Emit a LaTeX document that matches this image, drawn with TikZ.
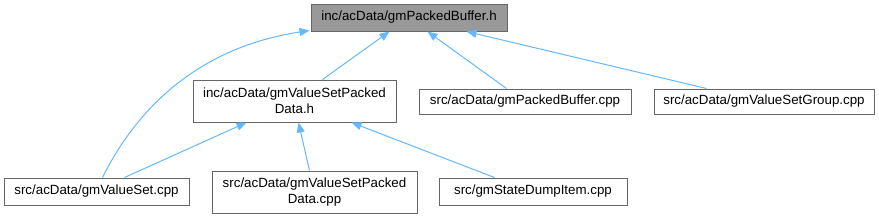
\documentclass[tikz,border=0pt]{standalone}
\usepackage{fontspec}
\setmainfont{Liberation Sans}
\usetikzlibrary{arrows.meta,calc}
\definecolor{edgeblue}{HTML}{63B8FF}
\definecolor{boxborder}{HTML}{666666}
\definecolor{topfill}{HTML}{999999}
\begin{document}
\begin{tikzpicture}[x=0.75pt,y=-0.75pt,
  box/.style={draw=boxborder,line width=0.75pt,fill=white,inner sep=0pt,align=center,
    font=\fontsize{10}{12}\selectfont,text=black},
  arr/.style={draw=edgeblue,line width=0.75pt,-{Triangle[length=7.5pt,width=6pt]}}]
\useasboundingbox (0,0) rectangle (879,219);
\node[box,fill=topfill,minimum width=147pt,minimum height=20.25pt] (top) at (409,17.5) {inc/acData/gmPackedBuffer.h};
\node[box,minimum width=152.25pt,minimum height=31.5pt] (mid) at (294.5,101) {inc/acData/gmValueSetPacked\\Data.h};
\node[box,minimum width=159pt,minimum height=18.75pt] (pb) at (525,101.5) {src/acData/gmPackedBuffer.cpp};
\node[box,minimum width=165pt,minimum height=18.75pt] (grp) at (764,101.5) {src/acData/gmValueSetGroup.cpp};
\node[box,minimum width=138.75pt,minimum height=20.25pt] (vs) at (96.5,191.5) {src/acData/gmValueSet.cpp};
\node[box,minimum width=153.75pt,minimum height=31.5pt] (vspd) at (314.5,192) {src/acData/gmValueSetPacked\\Data.cpp};
\node[box,minimum width=141pt,minimum height=20.25pt] (sd) at (533,191.5) {src/gmStateDumpItem.cpp};
% edges
\draw[arr] ($(vs.north west)+(99,0)$) .. controls (135,112) and (195,48) .. ($(top.south west)+(-1,-1)$);
\draw[arr] ($(mid.north west)+(130,0)$) -- ($(top.south west)+(79,0)$);
\draw[arr] ($(pb.north west)+(88,0)$) -- ($(top.south west)+(117,0)$);
\draw[arr] ($(grp.north west)+(53,0)$) -- ($(top.south west)+(156,0)$);
\draw[arr] ($(vs.north west)+(121,0)$) -- ($(mid.south west)+(54,0)$);
\draw[arr] ($(vspd.north west)+(98,0)$) -- ($(mid.south west)+(106,0)$);
\draw[arr] ($(sd.north west)+(56,0)$) -- ($(mid.south west)+(159,0)$);
\end{tikzpicture}
\end{document}
